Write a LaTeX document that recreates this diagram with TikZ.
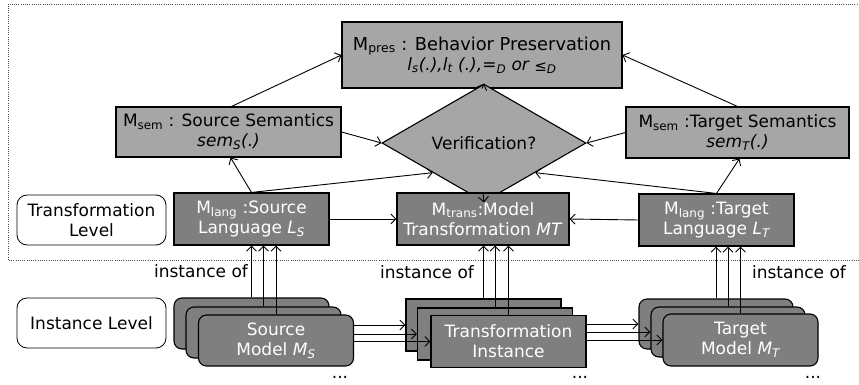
\documentclass[tikz,border=0pt]{standalone}
\usepackage{fontspec}
\setmainfont{DejaVu Sans}
\usetikzlibrary{shapes.geometric,arrows.meta}
\definecolor{lightbox}{RGB}{166,166,166}
\definecolor{darkbox}{RGB}{127,127,127}
\begin{document}
\begin{tikzpicture}[x=1pt,y=-1pt,
  every node/.style={font=\fontsize{17}{20}\selectfont, align=center, inner sep=0pt},
  lbox/.style={draw, fill=lightbox, line width=1.1pt},
  dbox/.style={draw, fill=darkbox, text=white, line width=1.1pt, minimum width=155pt, minimum height=52pt},
  rbox/.style={dbox, rounded corners=8pt, minimum height=51pt},
  lvl/.style={draw, rounded corners=10pt, line width=0.8pt, minimum width=149pt, minimum height=50pt},
  arr/.style={-{Straight Barb[length=5pt,width=10pt]}, line width=0.9pt}]
\useasboundingbox (0,0) rectangle (859,385);
\fill[white] (0,0) rectangle (859,385);
% dotted frame
\draw[black!70, dash pattern=on 1pt off 1.2pt, line width=0.9pt] (862,4) -- (8,4) -- (8,260) -- (862,260);

% transformation level
\node[lbox, minimum width=280pt, minimum height=66pt] (pres) at (482,55)
  {{\fontsize{17.8}{20}\selectfont M\textsubscript{pres} : Behavior Preservation}\\
   \textit{l\textsubscript{s}(.),l\textsubscript{t} (.),=\textsubscript{D} or \raisebox{-1.5pt}{\fontsize{15}{16}\selectfont ≤}\textsubscript{D}}};
\node[lbox, minimum width=225pt, minimum height=50pt] (semS) at (228.5,132)
  {M\textsubscript{sem} : Source Semantics\\ \textit{sem\textsubscript{S}(.)}};
\node[lbox, minimum width=223pt, minimum height=51pt] (semT) at (737.5,132.5)
  {M\textsubscript{sem} :Target Semantics\\ \textit{sem\textsubscript{T}(.)}};
\node[draw, diamond, fill=lightbox, line width=1.1pt, minimum width=204pt, minimum height=60pt] (ver) at (484,143) {Verification?};

\node[lvl] (tlev) at (91.5,220) {Transformation\\Level};
\node[dbox] (langS) at (251.5,219) {M\textsubscript{lang} :Source\\Language \textit{L\textsubscript{S}}};
\node[dbox, minimum width=172pt] (trans) at (483,219) {M\textsubscript{trans}:Model\\Transformation \textit{MT}};
\node[dbox] (langT) at (716.5,220) {M\textsubscript{lang} :Target\\Language \textit{L\textsubscript{T}}};

% instance level
\node[lvl] (ilev) at (91.5,323) {Instance Level};

\node[rbox] (srcA) at (251.5,323.5) {};
\node[rbox] (srcB) at (263.5,332.5) {};
\node[rbox] (srcC) at (276,340.5) {Source\\Model \textit{M\textsubscript{S}}};

\node[dbox] (tiA) at (483.5,325) {};
\node[dbox] (tiB) at (495,334) {};
\node[dbox] (tiC) at (508.5,341.5) {Transformation\\Instance};

\node[rbox, minimum width=154pt, minimum height=50pt] (tgtA) at (716,324) {};
\node[rbox, minimum width=154pt, minimum height=50pt] (tgtB) at (728,332) {};
\node[rbox, minimum width=155pt, minimum height=52pt] (tgtC) at (740.5,340) {Target\\Model \textit{M\textsubscript{T}}};

\node (io1) at (201,271) {instance of};
\node (io2) at (427,272) {instance of};
\node (io3) at (799,272) {instance of};

\node (d1) at (340,377) {...};
\node (d2) at (580,377) {...};
\node (d3) at (813,377) {...};

% top-level connectors
\draw[arr] (langS.east) -- (trans.west);
\draw[arr] (langT.west) -- (trans.east);
\draw[arr] (trans.north) -- (ver.south);
\draw[arr] (pres.south) -- (ver.north);
\draw[arr] (langS.north) -- ([xshift=2pt]semS.south);
\draw[arr] (langS.north) -- (ver.south west);
\draw[arr] (semS.east) -- (ver.west);
\draw[arr] ([xshift=3pt]semS.north) -- (pres.west);
\draw[arr] (semT.north) -- (pres.east);
\draw[arr] (semT.west) -- (ver.east);
\draw[arr] (langT.north) -- ([xshift=2pt]semT.south);
\draw[arr] (langT.north) -- (ver.south east);

% instance-of connectors
\foreach \n in {srcA,srcB,srcC} \draw[arr] (\n.north) -- (\n.north |- langS.south);
\foreach \n in {tiA,tiB,tiC} \draw[arr] (\n.north) -- (\n.north |- trans.south);
\foreach \n in {tgtA,tgtB,tgtC} \draw[arr] (\n.north) -- (\n.north |- langT.south);

% instance-level flows
\foreach \n in {tiA,tiB,tiC} \draw[arr] (srcC.east |- \n.west) -- (\n.west);
\foreach \n in {tgtA,tgtB,tgtC} \draw[arr] (tiC.east |- \n.west) -- (\n.west);
\end{tikzpicture}
\end{document}
